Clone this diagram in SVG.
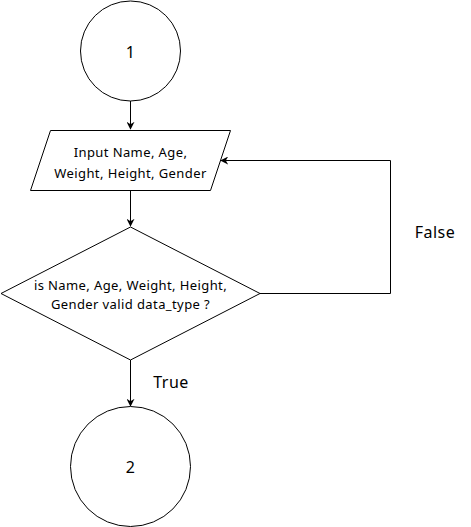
<svg xmlns="http://www.w3.org/2000/svg" width="471" height="527" viewBox="0 0 471 527">
<style>
.shape{fill:#ffffff;stroke:#000000;stroke-width:1}
.edge{fill:none;stroke:#000000;stroke-width:1}
text{font-family:"Comic Sans MS","Noto Sans","Liberation Sans",sans-serif;fill:#000000;text-anchor:middle;dominant-baseline:central}
.t12{font-size:13px;letter-spacing:0.4px}
.t14{font-size:16px;letter-spacing:0.5px}
</style>
<defs>
<marker id="arr" viewBox="0 0 10 10" refX="9" refY="5" markerWidth="8" markerHeight="8" markerUnits="userSpaceOnUse" orient="auto">
<path d="M0,0 L10,5 L0,10 L3,5 Z" fill="#000000"/>
</marker>
</defs>
<rect width="471" height="527" fill="#ffffff"/>
<g id="connectors">
<path class="edge" d="M130.5,101 L130.5,129" marker-end="url(#arr)"/>
<path class="edge" d="M130.5,190 L130.5,226" marker-end="url(#arr)"/>
<path class="edge" d="M130.5,360 L130.5,406" marker-end="url(#arr)"/>
<path class="edge" d="M260,293.5 L390.5,293.5 L390.5,160.5 L221,160.5" marker-end="url(#arr)"/>
<text class="t14" x="171" y="382">True</text>
<text class="t14" x="435" y="232">False</text>
</g>
<g id="node-start">
<circle class="shape" cx="130.5" cy="51" r="50"/>
<text class="t14" x="130.5" y="52">1</text>
</g>
<g id="node-input">
<polygon class="shape" points="50.5,130.5 230.5,130.5 210.5,190.5 30.5,190.5"/>
<text class="t12" x="130.5" y="152">Input Name, Age,</text>
<text class="t12" x="130.5" y="173">Weight, Height, Gender</text>
</g>
<g id="node-decision">
<polygon class="shape" points="130.5,227 260,293.5 130.5,360 1,293.5"/>
<text class="t12" x="130.5" y="285">is Name, Age, Weight, Height,</text>
<text class="t12" x="130.5" y="303.5">Gender valid data_type ?</text>
</g>
<g id="node-end">
<circle class="shape" cx="130.5" cy="466.5" r="60"/>
<text class="t14" x="130.5" y="467">2</text>
</g>
</svg>
